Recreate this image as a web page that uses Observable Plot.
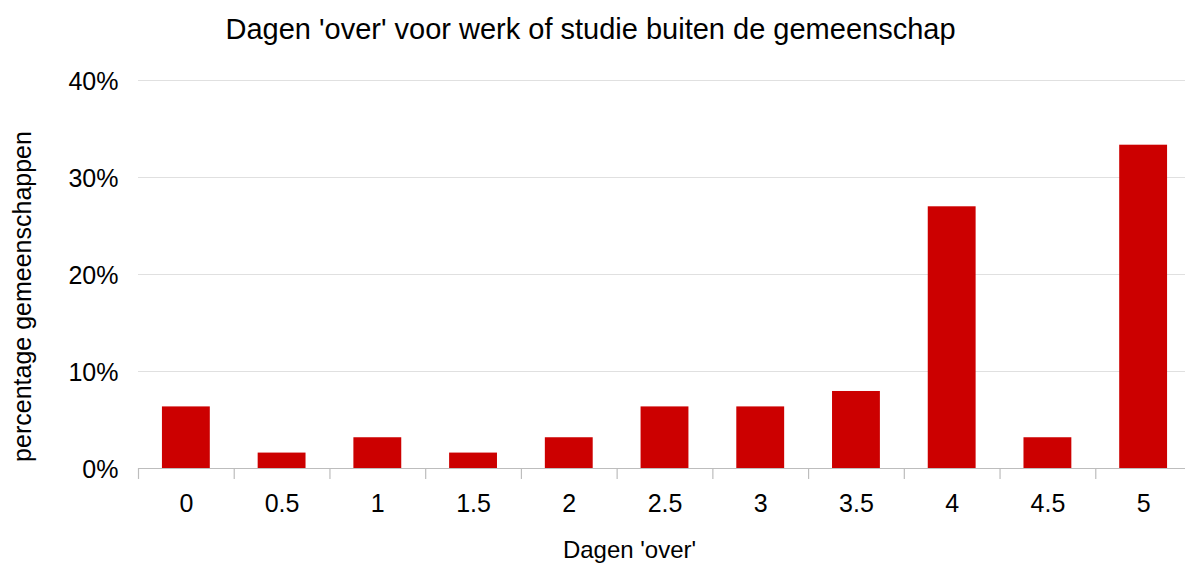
<!DOCTYPE html>
<html>
<head>
<meta charset="utf-8">
<script src="https://cdn.jsdelivr.net/npm/d3@7"></script>
<script src="https://cdn.jsdelivr.net/npm/@observablehq/plot@0.6"></script>
<style>
  html, body { margin: 0; padding: 0; background: #fff; }
  #chart svg { display: block; font-family: "Liberation Sans", Arial, sans-serif; }
</style>
</head>
<body>
<div id="chart"></div>
<script>
const categories = ["0", "0.5", "1", "1.5", "2", "2.5", "3", "3.5", "4", "4.5", "5"];
const percentages = [6.35, 1.59, 3.17, 1.59, 3.17, 6.35, 6.35, 7.94, 26.98, 3.17, 33.33];
const yTicks = [0, 0.1, 0.2, 0.3, 0.4];
const titleText = "Dagen 'over' voor werk of studie buiten de gemeenschap";
const xLabel = "Dagen 'over'";
const yLabel = "percentage gemeenschappen";

const data = categories.map((c, i) => ({cat: c, value: percentages[i] / 100}));

const W = 1185, H = 564;
const mL = 138, mT = 80, mB = 96;
const xRange = [138, 1191];
const step = (xRange[1] - xRange[0]) / categories.length;
const font = "Liberation Sans, Arial, sans-serif";

const chart = Plot.plot({
  width: W,
  height: H,
  marginLeft: mL,
  marginRight: 0,
  marginTop: mT,
  marginBottom: mB,
  style: {fontFamily: font, background: "#fff", overflow: "hidden"},
  x: {type: "band", domain: categories, range: xRange, paddingInner: 0.5, paddingOuter: 0.25, round: false},
  y: {domain: [0, 0.4]},
  marks: [
    Plot.ruleY(yTicks.slice(1), {stroke: "#e0e0e0", strokeWidth: 1.2}),
    Plot.barY(data, {x: "cat", y: "value", fill: "#cc0000"}),
    Plot.ruleY([0], {stroke: "#bdbdbd", strokeWidth: 1.2}),
    Plot.ruleX(categories, {x: d => d, y1: 0, y2: -0.0113, dx: -step / 2, stroke: "#bdbdbd", strokeWidth: 1.2, clip: false}),
    Plot.axisY({ticks: yTicks, tickFormat: d3.format(".0%"), tickSize: 0, tickPadding: 20, fontSize: 25, fill: "#000", label: null, dy: 1}),
    Plot.axisX({tickSize: 0, tickPadding: 26, fontSize: 25, fill: "#000", label: null}),
    Plot.text([titleText], {text: d => d, frameAnchor: "top-left", dx: 452, dy: -42, textAnchor: "middle", lineAnchor: "bottom", fontSize: 29, fill: "#000"}),
    Plot.text([xLabel], {text: d => d, frameAnchor: "bottom-left", dx: 491, dy: 89, textAnchor: "middle", lineAnchor: "bottom", fontSize: 24, fill: "#000"}),
    Plot.text([yLabel], {text: d => d, frameAnchor: "left", dx: -116, dy: 22, rotate: -90, textAnchor: "middle", lineAnchor: "middle", fontSize: 25, fill: "#000"})
  ]
});
document.getElementById("chart").appendChild(chart);
</script>
</body>
</html>
